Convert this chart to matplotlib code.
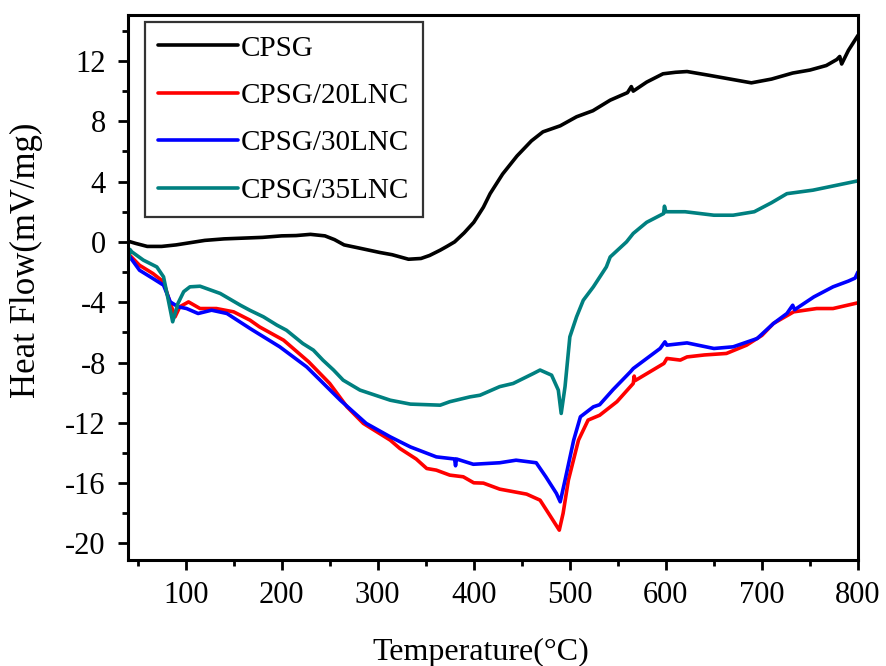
import matplotlib
matplotlib.use("Agg")
import matplotlib.pyplot as plt
from matplotlib.ticker import MultipleLocator

plt.rcParams['font.family'] = ['Liberation Serif', 'DejaVu Serif']
plt.rcParams['axes.unicode_minus'] = False

# ---- data ----
t_cpsg = [40, 48, 60, 75, 90, 105, 120, 140, 160, 180, 200, 215, 230, 245, 255, 265, 280,
          302, 315, 332, 345, 354, 365, 372, 380, 390, 400, 410, 417, 430, 445, 460, 472,
          490, 507, 524, 542, 560, 564, 566, 580, 597, 610, 622, 645, 667, 689, 710, 732,
          750, 767, 778, 781, 783, 790, 800]
v_cpsg = [0.05, -0.1, -0.3, -0.3, -0.2, -0.05, 0.1, 0.2, 0.25, 0.3, 0.4, 0.42, 0.5, 0.4,
          0.15, -0.2, -0.4, -0.7, -0.85, -1.15, -1.1, -0.9, -0.55, -0.3, 0.0, 0.6, 1.3, 2.3,
          3.2, 4.5, 5.7, 6.7, 7.3, 7.7, 8.3, 8.7, 9.4, 9.9, 10.3, 10.0, 10.6, 11.15, 11.25,
          11.3, 11.05, 10.8, 10.55, 10.8, 11.2, 11.4, 11.7, 12.1, 12.3, 11.8, 12.7, 13.7]

t_20 = [40, 42, 52, 66, 77, 83, 89, 94, 103, 115, 132, 150, 167, 177, 202, 228, 250, 268,
        285, 313, 323, 340, 351, 361, 375, 389, 400, 410, 427, 455, 469, 479, 489, 493,
        498.5, 509, 519, 531, 549, 566, 567, 568, 598, 601, 615, 622, 640, 663, 684, 700,
        712, 733, 757, 774, 800]
v_20 = [-0.7, -0.9, -1.55, -2.1, -2.65, -3.87, -4.97, -4.3, -3.98, -4.42, -4.42, -4.64,
        -5.19, -5.64, -6.52, -7.95, -9.39, -10.94, -12.04, -13.15, -13.7, -14.4, -15.03,
        -15.14, -15.47, -15.58, -15.98, -16.0, -16.4, -16.73, -17.13, -18.12, -19.12, -18.0,
        -15.8, -13.15, -11.82, -11.5, -10.6, -9.39, -8.9, -9.2, -8.06, -7.73, -7.84, -7.63,
        -7.5, -7.4, -6.85, -6.2, -5.41, -4.64, -4.42, -4.42, -4.04]

t_30 = [40, 42, 52, 66, 77, 84, 92, 101, 113, 127, 143, 167, 170, 198, 226, 240, 261, 288,
        313, 334, 361, 380, 381, 382, 399.5, 427, 444, 465, 475, 486, 490, 495, 504, 511,
        524.5, 531, 545, 563, 566, 594, 599, 601, 622, 650, 670, 695, 712, 726, 732, 734,
        754, 774, 790, 797, 800]
v_30 = [-0.7, -1.0, -1.88, -2.43, -2.87, -3.98, -4.3, -4.42, -4.75, -4.53, -4.75, -5.74,
        -5.86, -6.96, -8.29, -9.17, -10.5, -12.04, -12.93, -13.6, -14.26, -14.4, -14.85,
        -14.4, -14.75, -14.65, -14.48, -14.65, -15.58, -16.68, -17.24, -15.8, -13.15, -11.6,
        -10.94, -10.8, -9.8, -8.62, -8.4, -7.07, -6.63, -6.85, -6.7, -7.07, -6.96, -6.41,
        -5.41, -4.75, -4.2, -4.5, -3.65, -2.98, -2.6, -2.4, -1.99]

t_35 = [40, 40.5, 42, 44, 56, 70, 77, 82, 86.5, 92, 98, 104.5, 115, 136, 157, 167, 181,
        195, 205, 222, 233, 243, 254, 264, 281.5, 313, 334, 365, 375, 396, 406.5, 427, 441,
        462, 469, 481, 488, 491, 495, 500, 507, 514, 524.5, 538, 542, 559, 566, 580, 597.6,
        598.5, 600, 620, 650, 670, 692, 710, 726, 753, 778, 800]
v_35 = [0.0, -1.2, -0.5, -0.66, -1.21, -1.66, -2.32, -3.87, -5.3, -4.08, -3.3, -2.98,
        -2.94, -3.42, -4.2, -4.54, -4.97, -5.52, -5.86, -6.74, -7.18, -7.85, -8.5, -9.17,
        -9.83, -10.5, -10.76, -10.83, -10.6, -10.28, -10.17, -9.6, -9.39, -8.73, -8.5,
        -8.84, -9.83, -11.38, -9.6, -6.3, -4.97, -3.87, -2.98, -1.66, -1.0, 0.0, 0.56, 1.3,
        1.88, 2.37, 2.0, 2.0, 1.77, 1.77, 2.0, 2.6, 3.2, 3.43, 3.76, 4.05]

labels = ['CPSG', 'CPSG/20LNC', 'CPSG/30LNC', 'CPSG/35LNC']
colors = ['#000000', '#ff0000', '#0000ff', '#008080']

x_ticks = [100, 200, 300, 400, 500, 600, 700, 800]
y_ticks = [-20, -16, -12, -8, -4, 0, 4, 8, 12]

# ---- figure ----
fig = plt.figure(figsize=(8.86, 6.66), dpi=100)
ax = fig.add_axes([128/886, 1-560/666, 730/886, 545/666])

series = [(t_cpsg, v_cpsg), (t_20, v_20), (t_30, v_30), (t_35, v_35)]
for (t, v), lab, c in zip(series, labels, colors):
    ax.plot(t, v, color=c, lw=2.6, label=lab, solid_joinstyle='round', solid_capstyle='round')

ax.set_xlim(40, 800)
ax.set_ylim(-21.1, 15.05)
ax.set_xticks(x_ticks)
ax.set_yticks(y_ticks)
ax.xaxis.set_minor_locator(MultipleLocator(50))
ax.yaxis.set_minor_locator(MultipleLocator(2))
ax.tick_params(axis='both', which='major', direction='out', length=7, width=2,
               labelsize=22, top=False, right=False)
ax.tick_params(axis='both', which='minor', direction='out', length=4.5, width=2,
               top=False, right=False)
ax.tick_params(axis='x', which='major', pad=8)
ax.tick_params(axis='y', which='major', pad=9)
for s in ax.spines.values():
    s.set_linewidth(2.2)

ax.set_xlabel('Temperature(°C)', fontsize=23)
ax.set_ylabel('Heat Flow(mV/mg)', fontsize=25)
ax.xaxis.set_label_coords(0.4836, -0.143)
ax.yaxis.set_label_coords(-0.117, 0.55)

leg = ax.legend(loc='upper left', bbox_to_anchor=(17/730, 1-7/545), borderaxespad=0,
                fontsize=21, frameon=True, fancybox=False, edgecolor='black',
                handlelength=2.75, handletextpad=0.1, labelspacing=0.72, borderpad=0.45)
leg.get_frame().set_linewidth(1.6)

fig.savefig('out.png', dpi=100)
